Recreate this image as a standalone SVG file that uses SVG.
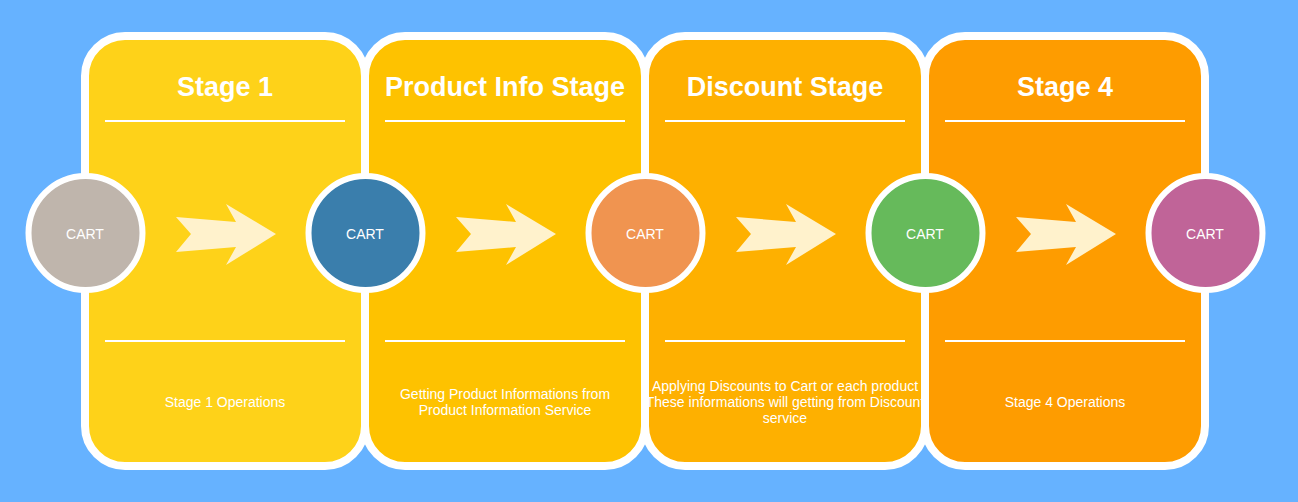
<svg xmlns="http://www.w3.org/2000/svg" width="1298" height="502" viewBox="0 0 1298 502">
<style>
.card{stroke:#FFFFFF;stroke-width:8}
.title{font-family:"Liberation Sans",Arial,sans-serif;font-weight:bold;font-size:27px;fill:#FFFFFF;text-anchor:middle}
.desc{font-family:"Liberation Sans",Arial,sans-serif;font-size:14px;fill:#FFFFFF;text-anchor:middle}
.sep{stroke:#FFFFFF;stroke-width:2}
.circ{stroke:#FFFFFF;stroke-width:6}
.ctext{font-family:"Liberation Sans",Arial,sans-serif;font-size:14px;fill:#FFFFFF;text-anchor:middle}
.arrow{fill:#FFF2CC}
</style>
<defs>
<polygon id="arr" points="176,217 191,234 176,252 236,247 226,265 276,234 226,204 236,222"/>
<clipPath id="clip3"><rect x="647" y="40" width="277" height="422" rx="36"/></clipPath>
</defs>
<rect x="0" y="0" width="1298" height="502" fill="#66B2FF"/>
<g id="stage1">
<rect class="card" x="85" y="36" width="280" height="430" rx="40" fill="#FED219"/>
<text class="title" x="225" y="96">Stage 1</text>
<line class="sep" x1="105" y1="121" x2="345" y2="121"/>
<line class="sep" x1="105" y1="341" x2="345" y2="341"/>
<text class="desc" x="225" y="407">Stage 1 Operations</text>
</g>
<g id="stage2">
<rect class="card" x="365" y="36" width="280" height="430" rx="40" fill="#FEC200"/>
<text class="title" x="505" y="96">Product Info Stage</text>
<line class="sep" x1="385" y1="121" x2="625" y2="121"/>
<line class="sep" x1="385" y1="341" x2="625" y2="341"/>
<text class="desc" x="505" y="399">Getting Product Informations from</text>
<text class="desc" x="505" y="415">Product Information Service</text>
</g>
<g id="stage3">
<rect class="card" x="645" y="36" width="280" height="430" rx="40" fill="#FEB000"/>
<text class="title" x="785" y="96">Discount Stage</text>
<line class="sep" x1="665" y1="121" x2="905" y2="121"/>
<line class="sep" x1="665" y1="341" x2="905" y2="341"/>
<g clip-path="url(#clip3)">
<text class="desc" x="785" y="391">Applying Discounts to Cart or each product</text>
<text class="desc" x="785" y="407">These informations will getting from Discount</text>
<text class="desc" x="785" y="423">service</text>
</g>
</g>
<g id="stage4">
<rect class="card" x="925" y="36" width="280" height="430" rx="40" fill="#FE9C00"/>
<text class="title" x="1065" y="96">Stage 4</text>
<line class="sep" x1="945" y1="121" x2="1185" y2="121"/>
<line class="sep" x1="945" y1="341" x2="1185" y2="341"/>
<text class="desc" x="1065" y="407">Stage 4 Operations</text>
</g>
<g id="connectors">
<use href="#arr" class="arrow"/>
<use href="#arr" class="arrow" x="280"/>
<use href="#arr" class="arrow" x="560"/>
<use href="#arr" class="arrow" x="840"/>
</g>
<g id="cart1">
<circle class="circ" cx="85.5" cy="233" r="57" fill="#BFB5AC"/>
<text class="ctext" x="85" y="239">CART</text>
</g>
<g id="cart2">
<circle class="circ" cx="365.5" cy="233" r="57" fill="#3A7EAC"/>
<text class="ctext" x="365" y="239">CART</text>
</g>
<g id="cart3">
<circle class="circ" cx="645.5" cy="233" r="57" fill="#F09450"/>
<text class="ctext" x="645" y="239">CART</text>
</g>
<g id="cart4">
<circle class="circ" cx="925.5" cy="233" r="57" fill="#66BA5B"/>
<text class="ctext" x="925" y="239">CART</text>
</g>
<g id="cart5">
<circle class="circ" cx="1205.5" cy="233" r="57" fill="#C06498"/>
<text class="ctext" x="1205" y="239">CART</text>
</g>
</svg>
